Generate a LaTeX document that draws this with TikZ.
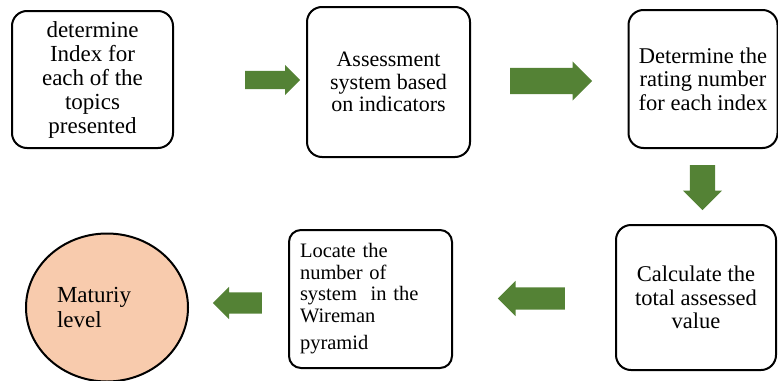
\documentclass[tikz,border=0pt]{standalone}
\usepackage{fontspec}
\setmainfont{Liberation Serif}
\usetikzlibrary{shapes.arrows,shapes.geometric}
\definecolor{flowgreen}{HTML}{548235}
\definecolor{peach}{HTML}{F8CBAD}
\newcommand{\fsz}[2]{\fontsize{#1}{#2}\selectfont}
\tikzset{
  stepbox/.style={draw=black, line width=2pt, rounded corners=15pt, fill=white,
    inner sep=0pt, align=center},
  % body width = 2 * inner sep, length = minimum height, placed by its tail
  blockarrow/.style={single arrow, fill=flowgreen, draw=none, anchor=tail,
    single arrow tip angle=90},
}
\begin{document}
\begin{tikzpicture}[x=1pt, y=-1pt]
  \useasboundingbox (0,0) rectangle (778,380);

  % top row
  \node[stepbox, minimum width=161, minimum height=137, font=\fsz{23}{24}]
    (index) at (92.5,79.5) {determine\\Index for\\each of the\\topics\\presented};
  \node[stepbox, minimum width=163, minimum height=150, font=\fsz{22}{22.5}]
    (assess) at (388.5,82) {Assessment\\system based\\on indicators};
  \node[stepbox, minimum width=149, minimum height=138, font=\fsz{22.5}{23.5}]
    (rating) at (703,79) {Determine the\\rating number\\for each index};

  % bottom row
  \node[stepbox, minimum width=160, minimum height=145, font=\fsz{22.5}{23.5}]
    (total) at (696,297.5) {Calculate the\\total assessed\\value};
  \node[stepbox, rounded corners=12pt, align=left, text width=141, inner xsep=11pt,
    minimum height=138, font=\fsz{20.5}{21.5}]
    (locate) at (370.5,299) {Locate the\\number of\\system~~in the\\Wireman\\[6pt]pyramid};
  \node[ellipse, draw=black, line width=2pt, fill=peach, inner sep=0pt,
    minimum width=162, minimum height=148, align=left, text width=100,
    font=\fsz{23}{25}]
    (maturity) at (107,307.5) {Maturiy\\level};

  % block arrows between the steps
  \node[blockarrow, inner sep=9pt, minimum height=55, single arrow head extend=6]
    (a1) at (245,80) {};
  \node[blockarrow, inner sep=13pt, minimum height=82, single arrow head extend=6.5]
    (a2) at (510,81) {};
  \node[blockarrow, shape border rotate=270, inner sep=12.5pt, minimum height=45,
    single arrow head extend=7]
    (a3) at (702.5,165) {};
  \node[blockarrow, shape border rotate=180, inner sep=11pt, minimum height=67,
    single arrow head extend=6.5]
    (a4) at (565,298.5) {};
  \node[blockarrow, shape border rotate=180, inner sep=10.5pt, minimum height=49,
    single arrow head extend=5.5]
    (a5) at (262,303) {};
\end{tikzpicture}
\end{document}
